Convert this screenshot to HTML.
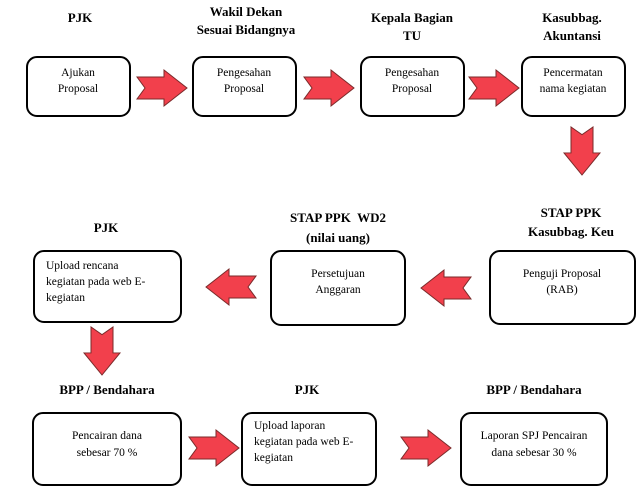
<!DOCTYPE html>
<html><head><meta charset="utf-8"><style>
html,body{margin:0;padding:0;background:#fff;width:641px;height:495px;overflow:hidden}
svg{display:block}
.t{font-family:"Liberation Serif",serif;font-weight:bold;font-size:13px;fill:#000;text-anchor:middle}
.b{font-family:"Liberation Serif",serif;font-size:11.5px;fill:#000}
.c{text-anchor:middle}
rect{fill:#fff;stroke:#000;stroke-width:2}
.a{fill:#f2404c;stroke:#7a2a2a;stroke-width:1}
</style></head><body>
<svg width="641" height="495" viewBox="0 0 641 495">
<defs>
<polygon id="ar" class="a" points="0,7 27,7 27,0 50,18 27,36 27,29 0,29 8,18"/>
</defs>
<text class="t" x="80" y="22">PJK</text>
<text class="t" x="246" y="16">Wakil Dekan</text>
<text class="t" x="246" y="34">Sesuai Bidangnya</text>
<text class="t" x="412" y="22">Kepala Bagian</text>
<text class="t" x="412" y="40">TU</text>
<text class="t" x="572" y="22">Kasubbag.</text>
<text class="t" x="572" y="40">Akuntansi</text>
<text class="t" x="106" y="232">PJK</text>
<text class="t" x="338" y="222">STAP PPK&#160; WD2</text>
<text class="t" x="338" y="242">(nilai uang)</text>
<text class="t" x="571" y="217">STAP PPK</text>
<text class="t" x="571" y="236">Kasubbag. Keu</text>
<text class="t" x="107" y="394">BPP / Bendahara</text>
<text class="t" x="307" y="394">PJK</text>
<text class="t" x="534" y="394">BPP / Bendahara</text>
<rect x="27" y="57" width="103" height="59" rx="10"/>
<text class="b c" x="78" y="76">Ajukan</text><text class="b c" x="78" y="92">Proposal</text>
<rect x="193" y="57" width="103" height="59" rx="10"/>
<text class="b c" x="244" y="76">Pengesahan</text><text class="b c" x="244" y="92">Proposal</text>
<rect x="361" y="57" width="103" height="59" rx="10"/>
<text class="b c" x="412" y="76">Pengesahan</text><text class="b c" x="412" y="92">Proposal</text>
<rect x="522" y="57" width="103" height="59" rx="10"/>
<text class="b c" x="573" y="76">Pencermatan</text><text class="b c" x="573" y="92">nama kegiatan</text>
<rect x="34" y="251" width="147" height="71" rx="10"/>
<text class="b" x="46" y="269">Upload rencana</text><text class="b" x="46" y="285">kegiatan pada web E-</text><text class="b" x="46" y="301">kegiatan</text>
<rect x="271" y="251" width="134" height="74" rx="10"/>
<text class="b c" x="338" y="277">Persetujuan</text><text class="b c" x="338" y="293">Anggaran</text>
<rect x="490" y="251" width="145" height="73" rx="10"/>
<text class="b c" x="562" y="277">Penguji Proposal</text><text class="b c" x="562" y="293">(RAB)</text>
<rect x="33" y="413" width="148" height="72" rx="10"/>
<text class="b c" x="107" y="439">Pencairan dana</text><text class="b c" x="107" y="456">sebesar 70 %</text>
<rect x="242" y="413" width="134" height="72" rx="10"/>
<text class="b" x="254" y="429">Upload laporan</text><text class="b" x="254" y="445">kegiatan pada web E-</text><text class="b" x="254" y="461">kegiatan</text>
<rect x="461" y="413" width="146" height="72" rx="10"/>
<text class="b c" x="534" y="439">Laporan SPJ Pencairan</text><text class="b c" x="534" y="456">dana sebesar 30 %</text>
<use href="#ar" transform="translate(137,70)"/>
<use href="#ar" transform="translate(304,70)"/>
<use href="#ar" transform="translate(469,70)"/>
<use href="#ar" transform="translate(600,127) rotate(90) scale(0.96,1)"/>
<use href="#ar" transform="translate(256,305) rotate(180)"/>
<use href="#ar" transform="translate(471,306) rotate(180)"/>
<use href="#ar" transform="translate(120,327) rotate(90) scale(0.96,1)"/>
<use href="#ar" transform="translate(189,430)"/>
<use href="#ar" transform="translate(401,430)"/>
</svg>
</body></html>
